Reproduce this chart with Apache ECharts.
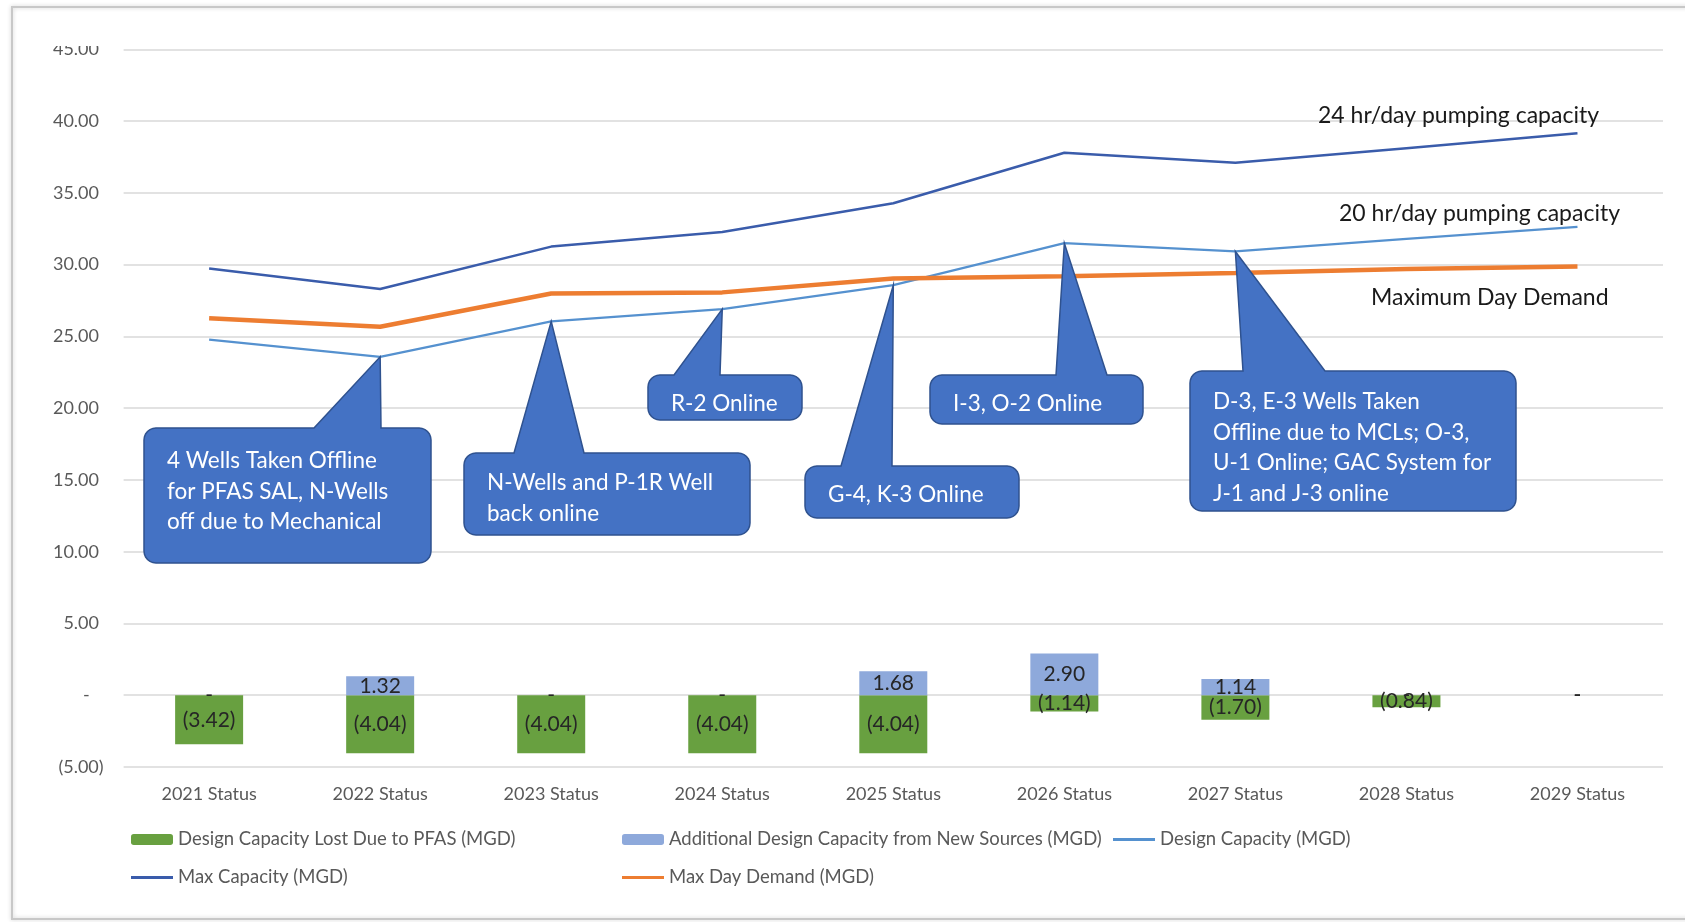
<!DOCTYPE html>
<html>
<head>
<meta charset="utf-8">
<script src="https://cdn.jsdelivr.net/npm/echarts@6/dist/echarts.min.js"></script>
<style>
  html, body { margin: 0; padding: 0; background: #ffffff; }
  #chart { width: 1685px; height: 922px; }
</style>
</head>
<body>
<div id="chart"></div>
<script>
// Categories along the bottom axis
const categories = ['2021 Status', '2022 Status', '2023 Status', '2024 Status', '2025 Status',
                    '2026 Status', '2027 Status', '2028 Status', '2029 Status'];

// Capacity changes per year (MGD)
const lostToPfas = [-3.42, -4.04, -4.04, -4.04, -4.04, -1.14, -1.70, -0.84, 0];
const additionalNew = [0, 1.32, 0, 0, 1.68, 2.90, 1.14, 0, 0];

// Capacity and demand lines (MGD)
const designCapacity = [24.78, 23.58, 26.05, 26.90, 28.57, 31.50, 30.92, 31.80, 32.63];
const maxCapacity = [29.74, 28.30, 31.26, 32.28, 34.28, 37.80, 37.10, 38.12, 39.16];
const maxDayDemand = [26.27, 25.67, 27.99, 28.07, 29.04, 29.19, 29.42, 29.70, 29.87];

// Value axis ticks
const yTicks = { min: -5, max: 45, step: 5 };

// Series names
const names = {
  lost: 'Design Capacity Lost Due to PFAS (MGD)',
  added: 'Additional Design Capacity from New Sources (MGD)',
  design: 'Design Capacity (MGD)',
  max: 'Max Capacity (MGD)',
  demand: 'Max Day Demand (MGD)'
};

// Callout notes pinned to the design capacity line
const notes = [
  { idx: 1, lines: ['4 Wells Taken Offline', 'for PFAS SAL, N-Wells', 'off due to Mechanical'],
    box: [144, 428, 431, 563], base: [314, 381], dy: 3 },
  { idx: 2, lines: ['N-Wells and P-1R Well', 'back online'],
    box: [464, 453, 750, 535], base: [514, 584], dy: 0 },
  { idx: 3, lines: ['R-2 Online'],
    box: [648, 375, 802, 420], base: [674, 720], dy: -1 },
  { idx: 4, lines: ['G-4, K-3 Online'],
    box: [805, 466, 1019, 518], base: [841, 892], dy: -1 },
  { idx: 5, lines: ['I-3, O-2 Online'],
    box: [930, 375, 1143, 424], base: [1056, 1107], dy: -1 },
  { idx: 6, lines: ['D-3, E-3 Wells Taken', 'Offline due to MCLs; O-3,', 'U-1 Online; GAC System for', 'J-1 and J-3 online'],
    box: [1190, 371, 1516, 511], base: [1243, 1325], dy: 1 }
];

const FONT = 'Lato, "Open Sans", sans-serif';
const GREY = '#595959';

// Accounting style number format: 0 -> "-", negatives in parentheses
function acct(v) {
  if (Math.abs(v) < 1e-9) return '-';
  if (v < 0) return '(' + Math.abs(v).toFixed(2) + ')';
  return v.toFixed(2);
}

const chart = echarts.init(document.getElementById('chart'), null, { renderer: 'canvas' });

const barLabel = {
  show: true,
  position: 'inside',
  color: '#262626',
  fontFamily: FONT,
  fontSize: 21,
  formatter: p => acct(p.value)
};

function legendItem(name, left, top, isLine) {
  return {
    data: [isLine ? { name: name, icon: 'rect' } : name],
    left: left,
    top: top,
    orient: 'horizontal',
    itemWidth: 42,
    itemHeight: isLine ? 3 : 11,
    itemGap: 0,
    padding: 0,
    selectedMode: false,
    textStyle: { color: GREY, fontFamily: FONT, fontSize: 18.5 }
  };
}

const option = {
  animation: false,
  backgroundColor: '#ffffff',
  textStyle: { fontFamily: FONT },
  grid: { left: 123.6, right: 22, top: 49.4, bottom: 155 },
  xAxis: {
    type: 'category',
    data: categories,
    axisLine: { show: false },
    axisTick: { show: false },
    axisLabel: { color: GREY, fontFamily: FONT, fontSize: 18, margin: 18 },
    splitLine: { show: false }
  },
  yAxis: {
    type: 'value',
    min: yTicks.min,
    max: yTicks.max,
    interval: yTicks.step,
    axisLine: { show: false },
    axisTick: { show: false },
    axisLabel: {
      color: GREY, fontFamily: FONT, fontSize: 18, margin: 20,
      formatter: v => {
        if (Math.abs(v) < 1e-9) return '-   ';
        if (v < 0) return acct(v);
        return acct(v) + ' ';
      }
    },
    splitLine: { lineStyle: { color: '#D9D9D9', width: 1.5 } }
  },
  legend: [
    legendItem(names.lost, 131, 830, false),
    legendItem(names.added, 622, 830, false),
    legendItem(names.design, 1113, 830, true),
    legendItem(names.max, 131, 868, true),
    legendItem(names.demand, 622, 868, true)
  ],
  series: [
    {
      name: names.lost, type: 'bar', data: lostToPfas,
      barWidth: 68, barGap: '-100%', itemStyle: { color: '#68A040' }, label: barLabel, z: 2
    },
    {
      name: names.added, type: 'bar', data: additionalNew,
      barWidth: 68, barGap: '-100%', itemStyle: { color: '#8EA9DB' }, label: barLabel, z: 2
    },
    {
      name: names.design, type: 'line', data: designCapacity, symbol: 'none',
      lineStyle: { color: '#5591CF', width: 2.25 }, itemStyle: { color: '#5591CF' }, z: 3
    },
    {
      name: names.max, type: 'line', data: maxCapacity, symbol: 'none',
      lineStyle: { color: '#3A5CAB', width: 2.5 }, itemStyle: { color: '#3A5CAB' }, z: 3
    },
    {
      name: names.demand, type: 'line', data: maxDayDemand, symbol: 'none',
      lineStyle: { color: '#ED7D31', width: 4.5 }, itemStyle: { color: '#ED7D31' }, z: 4
    }
  ]
};

chart.setOption(option);

// Outline of a rounded box with a pointer wedge rising from its top edge
function calloutPoints(box, base, tip) {
  const [x0, y0, x1, y1] = box;
  const r = 12, seg = 6;
  const pts = [];
  function arc(cx, cy, a0, a1) {
    for (let i = 0; i <= seg; i++) {
      const a = a0 + (a1 - a0) * i / seg;
      pts.push([cx + r * Math.cos(a), cy + r * Math.sin(a)]);
    }
  }
  const P = Math.PI;
  arc(x0 + r, y0 + r, P, 1.5 * P);          // top-left
  pts.push([base[0], y0], [tip[0], tip[1]], [base[1], y0]);
  arc(x1 - r, y0 + r, 1.5 * P, 2 * P);      // top-right
  arc(x1 - r, y1 - r, 0, 0.5 * P);          // bottom-right
  arc(x0 + r, y1 - r, 0.5 * P, P);          // bottom-left
  return pts;
}

const graphics = [];

// Outer frame of the chart
graphics.push({
  type: 'rect', z: 100, silent: true,
  shape: { x: 12, y: 7, width: 1700, height: 912 },
  style: { fill: 'none', stroke: '#C8C8C8', lineWidth: 2, shadowBlur: 4, shadowColor: 'rgba(0,0,0,0.2)' }
});
// Top strip of the frame trims the uppermost tick label
graphics.push({
  type: 'rect', z: 90, silent: true,
  shape: { x: 14, y: 9, width: 100, height: 37 },
  style: { fill: '#ffffff' }
});

notes.forEach(n => {
  const tip = chart.convertToPixel({ xAxisIndex: 0, yAxisIndex: 0 }, [n.idx, designCapacity[n.idx]]);
  graphics.push({
    type: 'polygon', z: 50, silent: true,
    shape: { points: calloutPoints(n.box, n.base, tip) },
    style: { fill: '#4472C4', stroke: '#2F528F', lineWidth: 1.5 }
  });
  const lh = 30.5;
  n.lines.forEach((t, i) => {
    graphics.push({
      type: 'text', z: 51, silent: true,
      style: {
        text: t, x: n.box[0] + 23, y: n.box[1] + 30 + n.dy + lh * i,
        fill: '#ffffff', font: '22.5px ' + FONT, verticalAlign: 'middle', align: 'left'
      }
    });
  });
});

// Line captions at the right end
[
  { text: '24 hr/day pumping capacity', x: 1318, y: 116 },
  { text: '20 hr/day pumping capacity', x: 1339, y: 214 },
  { text: 'Maximum Day Demand', x: 1371, y: 298 }
].forEach(c => {
  graphics.push({
    type: 'text', z: 40, silent: true,
    style: { text: c.text, x: c.x, y: c.y, fill: '#1A1A1A', font: '23px ' + FONT, verticalAlign: 'middle' }
  });
});

chart.setOption({ graphic: graphics });
</script>
</body>
</html>
